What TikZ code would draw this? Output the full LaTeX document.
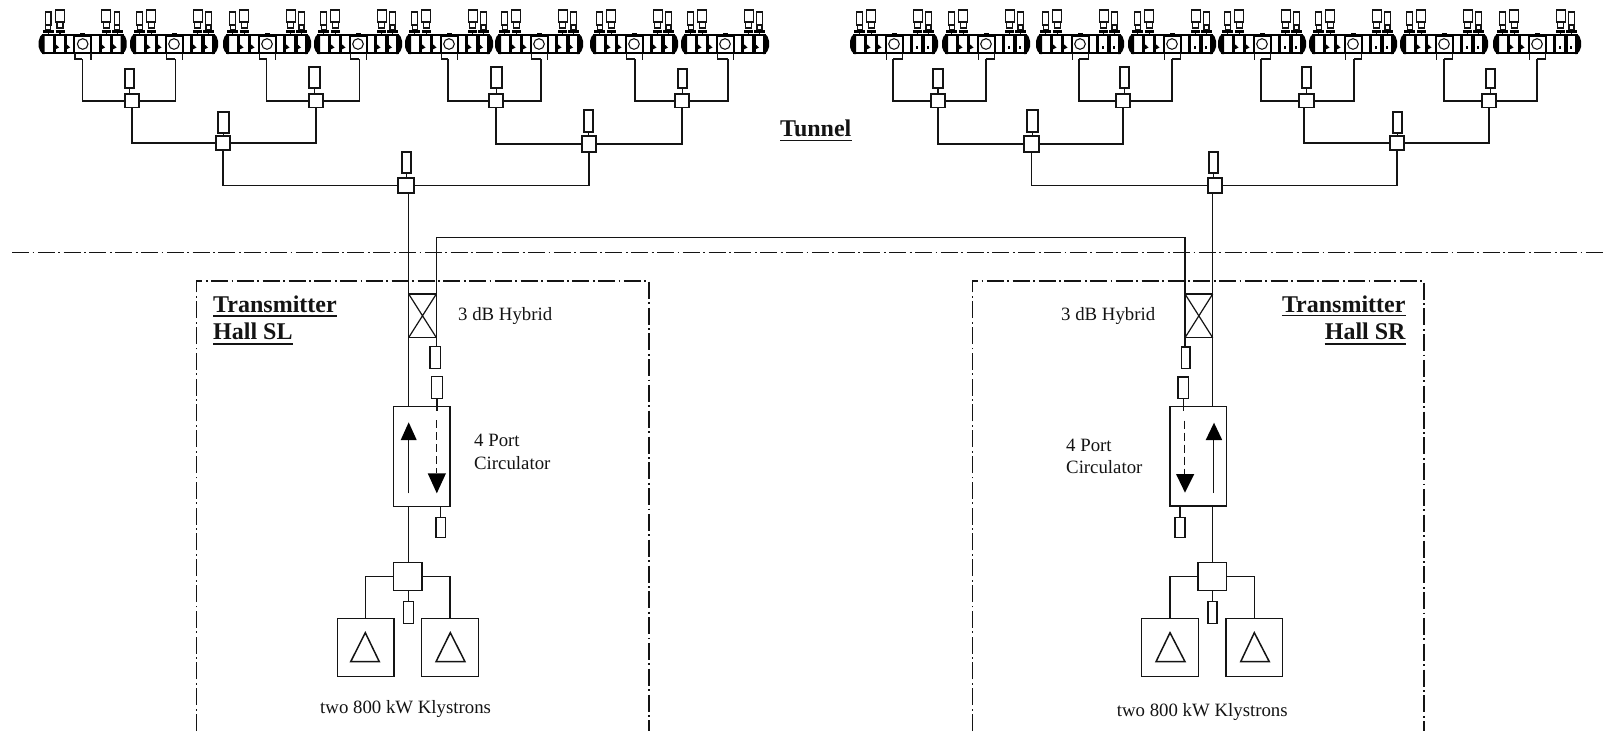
\documentclass[tikz,border=0pt]{standalone}
\usepackage{fontspec}
\setmainfont{Liberation Serif}
\definecolor{ink}{gray}{0.08}
\tikzset{
  wire/.style={draw=ink,line width=1.5pt},
  boxn/.style={draw=ink,fill=white,line width=1.5pt,rectangle,inner sep=0pt,outer sep=0pt},
  ddash/.style={draw=ink,line width=1.2pt,dash pattern=on 17pt off 3.5pt on 1.8pt off 3.5pt},
  small/.style={font=\fontsize{18.8}{20}\selectfont,text=ink,inner sep=0pt,anchor=base west},
  big/.style={font=\fontsize{24}{25}\bfseries\selectfont,text=ink,inner sep=0pt,anchor=base west},
  under/.style={draw=ink,line width=1.3pt},
  cellwall/.style={draw=black,line width=3.4pt},
  thinl/.style={draw=ink,line width=1.2pt}
}
% box from corner to corner
\newcommand{\bx}[5]{\node[boxn,minimum width={(#4)-(#2)},minimum height={(#5)-(#3)}] (#1) at ({((#2)+(#4))/2},{((#3)+(#5))/2}) {};}
% one cavity module: id, circle centre, output line x, side (0 left tree, 1 right tree)
\newcommand{\cavmodule}[4]{%
  \begin{scope}[shift={(#2,0)}]
    % couplers on top
    \foreach \dx/\wd/\top in {-34.4/5.5/12,34.4/5.5/12}{
      \draw[thinl,fill=white] ({\dx-\wd/2},\top) rectangle ({\dx+\wd/2},25);
      \draw[thinl] ({\dx-2.5},25) rectangle ({\dx+2.5},30);
      \draw[black,line width=3.4pt] ({\dx-5.5},31.5) -- ({\dx+5.5},31.5);
      \draw[thinl] (\dx,33) -- (\dx,35);
    }
    \foreach \dx/\wd/\top in {-22.7/9/10,23.6/9/10}{
      \draw[thinl,fill=white] ({\dx-\wd/2},\top) rectangle ({\dx+\wd/2},22);
      \draw[thinl] ({\dx-3},22) rectangle ({\dx+3},28);
      \draw[black,line width=3pt] ({\dx-4.5},31.5) -- ({\dx+4.5},31.5);
      \draw[thinl] (\dx,33) -- (\dx,35);
    }
    % body
    \draw[black,line width=2pt] (-41,35) -- (41,35) (-41,53) -- (41,53);
    \fill[black] (-40,34) -- (-42.5,36.5) -- (-44,41) -- (-44,47) -- (-42.5,51) -- (-40,54) -- (-38,54) -- (-38,34) -- cycle;
    \fill[black] (40,34) -- (42.5,36.5) -- (44,41) -- (44,47) -- (42.5,51) -- (40,54) -- (38,54) -- (38,34) -- cycle;
    \foreach \dx in {-28.5,-17.5,17.5,29}{
      \draw[cellwall] (\dx,35) -- (\dx,53);
    }
    \ifnum#4=0
      \foreach \dx in {-28.5,-17.5,17.5,29}{
        \fill[black] (\dx,43) -- ({\dx+5},47.5) -- (\dx,50) -- cycle;
      }
    \else
      \foreach \dx in {-28.5,-17.5}{ \fill[black] (\dx,43) -- ({\dx+5},47.5) -- (\dx,50) -- cycle; }
      \foreach \dx in {23,34}{ \fill[black] ({\dx-0.8},45.5) rectangle ({\dx+0.8},49); }
    \fi
    % coupler housing
    \draw[black,line width=2pt,fill=white] (-8.5,36) rectangle (8.5,52.5);
    \draw[ink,line width=1.1pt] (0,44) circle (5.3);
    \fill[black] (-2.5,32.5) rectangle (2.5,35);
    \draw[black,line width=2.4pt] (-11,53) -- (11,53);
  \end{scope}
  \coordinate (m#1) at (#3,59);
  \ifnum#4=0
    \draw[wire] ({#2-7.5},53) -- ({#2-7.5},59) -- (m#1);
    \draw[wire] ({#2+8.5},53) -- ({#2+8.5},60);
  \else
    \draw[wire] ({#2+8.5},53) -- ({#2+8.5},59) -- (m#1);
    \draw[wire] ({#2-7.5},53) -- ({#2-7.5},60);
  \fi
}
\begin{document}
\begin{tikzpicture}[x=1pt,y=-1pt]
\useasboundingbox (0,0) rectangle (1605,731);
\fill[white] (0,0) rectangle (1605,731);

% boundary lines
\coordinate (dL) at (12,252.7);
\coordinate (dR) at (1605,252.7);
\draw[ddash] (dL) -- (dR);
\coordinate (bl1) at (196.7,731);
\coordinate (bl2) at (196.7,281);
\coordinate (bl3) at (649,281);
\coordinate (bl4) at (649,731);
\draw[ddash] (bl1) -- (bl2) -- (bl3) -- (bl4);
\coordinate (br1) at (972.5,731);
\coordinate (br2) at (972.5,281);
\coordinate (br3) at (1424,281);
\coordinate (br4) at (1424,731);
\draw[ddash] (br1) -- (br2) -- (br3) -- (br4);

% cavity modules
\cavmodule{1}{82.7}{82.3}{0}
\cavmodule{2}{174}{175.3}{0}
\cavmodule{3}{267}{266.7}{0}
\cavmodule{4}{358}{359.3}{0}
\cavmodule{5}{449}{448}{0}
\cavmodule{6}{539}{541}{0}
\cavmodule{7}{634}{635}{0}
\cavmodule{8}{725}{728}{0}
\cavmodule{9}{894}{893}{1}
\cavmodule{10}{986}{986}{1}
\cavmodule{11}{1080}{1079}{1}
\cavmodule{12}{1172}{1172}{1}
\cavmodule{13}{1262}{1261}{1}
\cavmodule{14}{1353}{1354}{1}
\cavmodule{15}{1444}{1444}{1}
\cavmodule{16}{1537}{1537}{1}

% power distribution tree: splitters
\bx{a1}{125}{94}{139}{107.5}
\bx{a2}{309}{94}{323}{107.5}
\bx{a3}{489}{94}{503}{107.5}
\bx{a4}{675}{94}{689}{107.5}
\bx{b1}{216}{136}{230}{150}
\bx{b2}{582}{136}{596}{152}
\bx{c1}{398}{178}{414}{193}
\bx{d1}{931}{94}{945}{107.5}
\bx{d2}{1116}{94}{1130}{107.5}
\bx{d3}{1299}{94}{1314}{107.5}
\bx{d4}{1482}{94}{1496}{107.5}
\bx{e1}{1024}{136}{1039}{152}
\bx{e2}{1390}{136}{1404}{150}
\bx{f1}{1208}{178}{1222}{193}

% tree loads
\bx{la1}{125}{69}{134}{88}
\bx{la2}{309}{67}{320}{88}
\bx{la3}{491}{67}{502}{88}
\bx{la4}{678}{69}{687}{88}
\bx{lb1}{218}{112}{229}{133}
\bx{lb2}{584}{110}{593}{132}
\bx{lc1}{402}{152}{411}{173}
\bx{ld1}{933}{69}{943}{88}
\bx{ld2}{1120}{67}{1129}{88}
\bx{ld3}{1302}{67}{1311}{88}
\bx{ld4}{1486}{69}{1495}{88}
\bx{le1}{1027}{110}{1038}{132}
\bx{le2}{1393}{112}{1402}{133}
\bx{lf1}{1209}{152}{1218}{173}
\foreach \l/\p in {la1/a1,la2/a2,la3/a3,la4/a4,lb1/b1,lb2/b2,lc1/c1,ld1/d1,ld2/d2,ld3/d3,ld4/d4,le1/e1,le2/e2,lf1/f1}{
  \draw[wire] (\l.south) -- (\l.south |- \p.north);
}

% tree connectors
\foreach \c/\p in {m1/a1,m3/a2,m5/a3,m7/a4,m9/d1,m11/d2,m13/d3,m15/d4}{ \draw[wire] (\c) |- (\p.west); }
\foreach \c/\p in {m2/a1,m4/a2,m6/a3,m8/a4,m10/d1,m12/d2,m14/d3,m16/d4}{ \draw[wire] (\c) |- (\p.east); }
\draw[wire] (a1.south) |- (b1.west);
\draw[wire] (a2.south) |- (b1.east);
\draw[wire] (a3.south) |- (b2.west);
\draw[wire] (a4.south) |- (b2.east);
\draw[wire] (d1.south) |- (e1.west);
\draw[wire] (d2.south) |- (e1.east);
\draw[wire] ([xshift=-2.5pt]d3.south) |- (e2.west);
\draw[wire] (d4.south) |- (e2.east);
\draw[wire] (b1.south) |- (c1.west);
\draw[wire] (b2.south) |- (c1.east);
\draw[wire] (e1.south) |- (f1.west);
\draw[wire] (e2.south) |- (f1.east);

% left transmitter hall
\bx{hL}{408.7}{294}{436.3}{337.5}
\draw[thinl] (hL.north west) -- (hL.south east) (hL.north east) -- (hL.south west);
\bx{l1L}{430}{346.7}{440.7}{368.7}
\bx{l2L}{431.7}{376.7}{442.3}{398.3}
\bx{cL}{393.3}{406.3}{450}{506.3}
\bx{l3L}{436}{517.3}{445.3}{537.7}
\bx{sL}{393.7}{562.3}{422}{590.3}
\bx{l4L}{403.3}{601.7}{413.7}{623.3}
\bx{k1L}{337.3}{618.3}{394}{676.7}
\bx{k2L}{421.7}{618.3}{478.7}{676.7}
\draw[wire] (c1.south -| hL.north west) -- (cL.north -| hL.north west);
\draw[wire] (cL.south -| hL.north west) -- (sL.north -| hL.north west);
\draw[wire] (hL.south east) -- (l1L.north -| hL.south east);
\draw[wire] (l2L.south) -- (cL.north -| l2L.south) -- ++(0,5);
\draw[wire] (l3L.north) -- (cL.south -| l3L.north);
\draw[wire] (sL.south -| l4L.north) -- (l4L.north);
\draw[wire] (sL.west) -| (k1L.north);
\draw[wire] (sL.east) -| (k2L.north);
\coordinate (upLa) at (408.5,493.3);
\coordinate (upLb) at (408.5,440);
\draw[wire] (upLa) -- (upLb);
\fill[black] (400.7,440) -- (416.7,440) -- (408.7,422.3) -- cycle;
\coordinate (dnLa) at (436.7,420);
\coordinate (dnLb) at (436.7,473.3);
\draw[wire,dash pattern=on 8pt off 4pt] (dnLa) -- (dnLb);
\fill[black] (427.7,473.3) -- (446,473.3) -- (436.8,493.3) -- cycle;
\draw[wire,line join=miter] (350.7,661.7) -- (365.3,632.7) -- (379.3,661.7) -- cycle;
\draw[wire,line join=miter] (436,661.7) -- (450.3,632.7) -- (465,661.7) -- cycle;

% right transmitter hall
\bx{hR}{1185}{294}{1212.7}{337.7}
\draw[thinl] (hR.north west) -- (hR.south east) (hR.north east) -- (hR.south west);
\bx{l1R}{1181.3}{347}{1190}{368.7}
\bx{l2R}{1178}{377}{1188.7}{398.7}
\bx{cR}{1170}{406.3}{1226.7}{506}
\bx{l3R}{1175}{517.3}{1185}{537.7}
\bx{sR}{1198}{562.3}{1226.7}{590.3}
\bx{l4R}{1208}{601.7}{1217}{623.3}
\bx{k1R}{1141.7}{618.3}{1198.3}{676.7}
\bx{k2R}{1226}{618.3}{1282.7}{676.7}
\draw[wire] (f1.south -| hR.north east) -- (cR.north -| hR.north east);
\draw[wire] (cR.south -| hR.north east) -- (sR.north -| hR.north east);
\draw[wire] (hR.south west) -- (l1R.north -| hR.south west);
\draw[wire] (l2R.south) -- (cR.north -| l2R.south) -- ++(0,5);
\draw[wire] (l3R.north) -- (cR.south -| l3R.north);
\draw[wire] (sR.south -| l4R.north) -- (l4R.north);
\draw[wire] (sR.west) -| (k1R.north);
\draw[wire] (sR.east) -| (k2R.north);
\coordinate (upRa) at (1213.5,493);
\coordinate (upRb) at (1213.5,440);
\draw[wire] (upRa) -- (upRb);
\fill[black] (1205.7,440) -- (1222.2,440) -- (1214,422.7) -- cycle;
\coordinate (dnRa) at (1184.7,420.7);
\coordinate (dnRb) at (1184.7,474);
\draw[wire,dash pattern=on 8pt off 4pt] (dnRa) -- (dnRb);
\fill[black] (1176,474) -- (1194.3,474) -- (1185,492.7) -- cycle;
\draw[wire,line join=miter] (1156,661.7) -- (1170,632.7) -- (1185,661.7) -- cycle;
\draw[wire,line join=miter] (1240.7,661.7) -- (1254.3,632.7) -- (1269.3,661.7) -- cycle;

% link between the two hybrids
\coordinate (loop) at (800,237.3);
\draw[wire] (hL.north east) -- (hL.north east |- loop) -- (hR.north west |- loop) -- (hR.north west);

% labels
\node[big] (tun) at (780,136) {Tunnel};
\draw[under] (tun.base west |- 0,140.5) -- (tun.base east |- 0,140.5);
\node[big] (t1L) at (213,312) {Transmitter};
\draw[under] (t1L.base west |- 0,316) -- (t1L.base east |- 0,316);
\node[big] (t2L) at (213,339) {Hall SL};
\draw[under] (t2L.base west |- 0,344) -- (t2L.base east |- 0,344);
\node[big,anchor=base east] (t1R) at (1405.7,312) {Transmitter};
\draw[under] (t1R.base west |- 0,315.5) -- (t1R.base east |- 0,315.5);
\node[big,anchor=base east] (t2R) at (1405.7,339) {Hall SR};
\draw[under] (t2R.base west |- 0,344) -- (t2R.base east |- 0,344);
\node[small] (hybL) at (458,320) {3 dB Hybrid};
\node[small] (hybR) at (1061,320) {3 dB Hybrid};
\node[small] (p1L) at (474,446) {4 Port};
\node[small] (p2L) at (474,469) {Circulator};
\node[small] (p1R) at (1066,451) {4 Port};
\node[small] (p2R) at (1066,473) {Circulator};
\node[small] (kL) at (320,713) {two 800 kW Klystrons};
\node[small] (kR) at (1116.7,716) {two 800 kW Klystrons};
\end{tikzpicture}
\end{document}
